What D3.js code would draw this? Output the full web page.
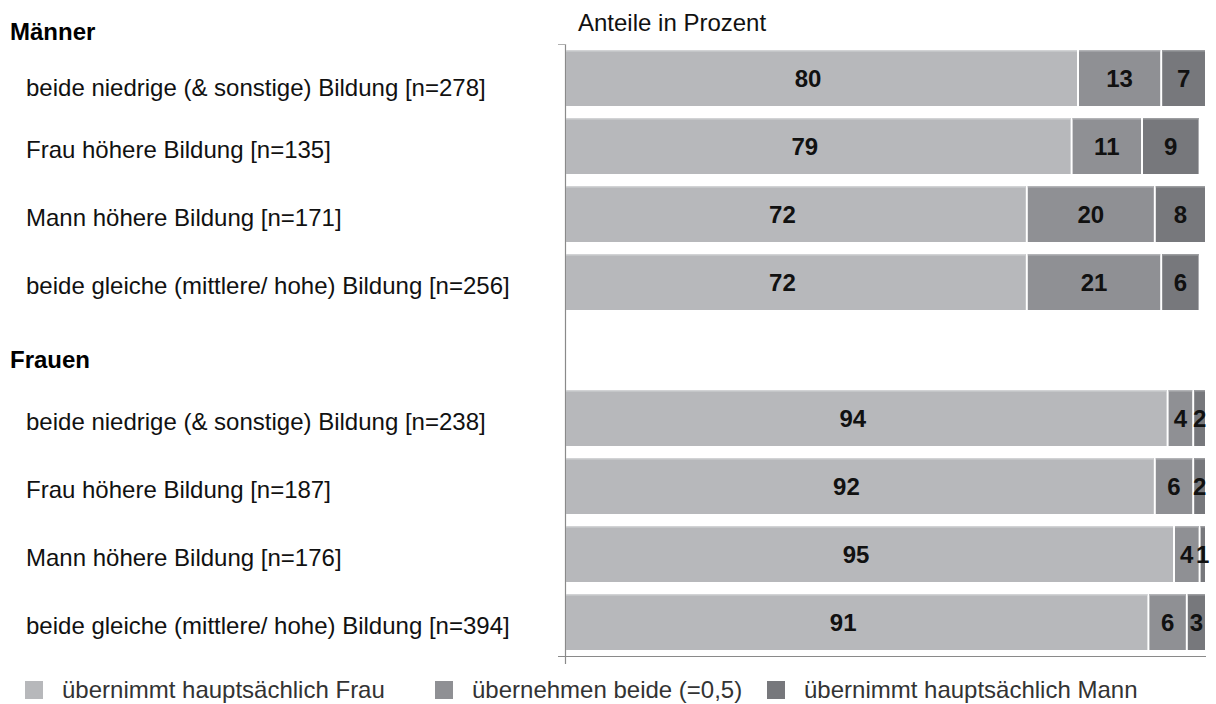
<!DOCTYPE html>
<html>
<head>
<meta charset="utf-8">
<script src="https://cdn.jsdelivr.net/npm/d3@7"></script>
<style>
  html, body { margin: 0; padding: 0; background: #fff; }
  svg { display: block; font-family: "Liberation Sans", Arial, sans-serif; }
</style>
</head>
<body>
<svg id="chart" width="1216" height="704"></svg>
<script>
// Row labels (null = gap row between the two groups)
const categories = [
  "beide niedrige (& sonstige) Bildung [n=278]",
  "Frau höhere Bildung [n=135]",
  "Mann höhere Bildung [n=171]",
  "beide gleiche (mittlere/ hohe) Bildung [n=256]",
  null,
  "beide niedrige (& sonstige) Bildung [n=238]",
  "Frau höhere Bildung [n=187]",
  "Mann höhere Bildung [n=176]",
  "beide gleiche (mittlere/ hohe) Bildung [n=394]"
];
const groupHeaders = ["Männer", "Frauen"];

// Shares in percent per series
const frau  = [80, 79, 72, 72, null, 94, 92, 95, 91];
const beide = [13, 11, 20, 21, null,  4,  6,  4,  6];
const mann  = [ 7,  9,  8,  6, null,  2,  2,  1,  3];

const seriesNames = [
  "übernimmt hauptsächlich Frau",
  "übernehmen beide (=0,5)",
  "übernimmt hauptsächlich Mann"
];
const axisTitle = "Anteile in Prozent";

const colors = ["#b7b8bb", "#8f9094", "#77787c"];
const highlight = ["#d2d3d5", "#b3b4b7", "#9c9da0"];

const svg = d3.select("#chart");
const left = 566, right = 1206;

const x = d3.scaleLinear().domain([0, 100]).range([left, right]);
const y = d3.scaleBand()
  .domain(d3.range(categories.length))
  .range([44, 656])
  .paddingInner(12 / 68)
  .paddingOuter(6 / 68);

// Stack the three series
const rows = categories.map((c, i) => ({ i, label: c, frau: frau[i], beide: beide[i], mann: mann[i] }))
  .filter(d => d.label !== null);
const keys = ["frau", "beide", "mann"];
const stacked = d3.stack().keys(keys)(rows);

// Axis lines
svg.append("line").attr("x1", left - 0.5).attr("x2", left - 0.5).attr("y1", 44).attr("y2", 664)
  .attr("stroke", "#8a8a8a").attr("stroke-width", 1.2);
svg.append("line").attr("x1", left - 8).attr("x2", left).attr("y1", 44.5).attr("y2", 44.5)
  .attr("stroke", "#b0b0b0").attr("stroke-width", 1);
svg.append("line").attr("x1", left - 8).attr("x2", right).attr("y1", 656.5).attr("y2", 656.5)
  .attr("stroke", "#8a8a8a").attr("stroke-width", 1.2);

// Bars
stacked.forEach((layer, k) => {
  const g = svg.append("g");
  g.selectAll("rect").data(layer).join("rect")
    .attr("x", d => x(d[0]) + (k > 0 ? 1 : 0))
    .attr("width", d => x(d[1]) - x(d[0]) - (k > 0 ? 1 : 0) - 1)
    .attr("y", d => y(d.data.i))
    .attr("height", y.bandwidth())
    .attr("fill", colors[k]);
  g.selectAll("line").data(layer).join("line")
    .attr("x1", d => x(d[0]) + (k > 0 ? 1 : 0))
    .attr("x2", d => x(d[1]) - 1)
    .attr("y1", d => y(d.data.i) + 0.75)
    .attr("y2", d => y(d.data.i) + 0.75)
    .attr("stroke", highlight[k]).attr("stroke-width", 1.5);
});

// Value labels
stacked.forEach((layer, k) => {
  svg.append("g").selectAll("text").data(layer).join("text")
    .attr("x", d => (x(d[0]) + x(d[1])) / 2 + (k === 0 ? -14 : 0))
    .attr("y", d => y(d.data.i) + y.bandwidth() / 2 + 8.5)
    .attr("text-anchor", "middle")
    .attr("font-size", 24).attr("font-weight", "bold").attr("fill", "#111")
    .text(d => d.data[keys[k]]);
});

// Category labels (the first row sits a little lower, below the group header)
svg.append("g").selectAll("text").data(rows).join("text")
  .attr("x", 26)
  .attr("y", d => y(d.i) + y.bandwidth() / 2 + 12 + (d.i === 0 ? 6 : 0))
  .attr("font-size", 24).attr("fill", "#111")
  .text(d => d.label);

// Group headers
svg.append("text").attr("x", 10).attr("y", 40).attr("font-size", 24).attr("font-weight", "bold")
  .attr("fill", "#000").text(groupHeaders[0]);
svg.append("text").attr("x", 10).attr("y", 368).attr("font-size", 24).attr("font-weight", "bold")
  .attr("fill", "#000").text(groupHeaders[1]);

// Axis title
svg.append("text").attr("x", 578).attr("y", 31).attr("font-size", 24).attr("fill", "#111").text(axisTitle);

// Legend
const legendX = [25, 435, 767];
const legend = svg.append("g").selectAll("g").data(seriesNames).join("g")
  .attr("transform", (d, i) => `translate(${legendX[i]},681)`);
legend.append("rect").attr("width", 18).attr("height", 18).attr("fill", (d, i) => colors[i]);
legend.append("text").attr("x", 37).attr("y", 17).attr("font-size", 24).attr("fill", "#333").text(d => d);
</script>
</body>
</html>
